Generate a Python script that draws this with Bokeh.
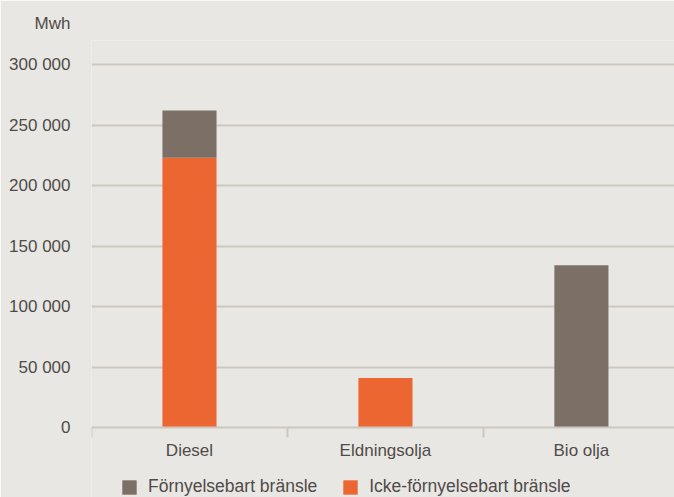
from bokeh.plotting import figure
from bokeh.models import FixedTicker, Legend, LegendItem, ColumnDataSource, Range1d, LinearAxis
from bokeh.embed import file_html
from bokeh.resources import INLINE

categories = ["Diesel", "Eldningsolja", "Bio olja"]
fornyelsebart = [39000, 0, 134000]
icke_fornyelsebart = [223000, 41000, 0]
series_names = ["Förnyelsebart bränsle", "Icke-förnyelsebart bränsle"]
y_ticks = [0, 50000, 100000, 150000, 200000, 250000, 300000]
y_tick_labels = ["0", "50 000", "100 000", "150 000", "200 000", "250 000", "300 000"]
unit_label = "Mwh"

BG = "#e9e7e3"
GRAY = "#7b6f66"
ORANGE = "#ec6631"
TXT = "#4f4b48"
GRID = "#cdc7c0"
FONT = "Liberation Sans"
FS = "17px"

xs = list(range(len(categories)))
src = ColumnDataSource(dict(x=xs, icke=icke_fornyelsebart, forn=fornyelsebart))

p = figure(width=674, height=497, output_backend="svg", toolbar_location=None,
           x_range=Range1d(-0.5, 2.475), y_range=Range1d(-57850, 319835),
           x_axis_location=None,
           min_border_left=91, min_border_right=0, min_border_top=40, min_border_bottom=0)
p.background_fill_color = BG
p.border_fill_color = BG
p.outline_line_color = None

rs = p.vbar_stack(["icke", "forn"], x="x", width=0.276, source=src,
                  color=[ORANGE, GRAY], line_color=None)

# x axis fixed at y = 0
xa = LinearAxis(fixed_location=0)
xa.ticker = FixedTicker(ticks=xs, minor_ticks=[-0.5, 0.5, 1.5])
xa.major_label_overrides = {i: c for i, c in enumerate(categories)}
xa.major_tick_line_color = None
xa.minor_tick_line_color = GRID
xa.minor_tick_line_width = 2
xa.minor_tick_in = 0
xa.minor_tick_out = 10
xa.axis_line_color = GRID
xa.axis_line_width = 2
xa.major_label_text_font = FONT
xa.major_label_text_font_size = FS
xa.major_label_text_color = TXT
xa.major_label_standoff = 3
p.add_layout(xa, "below")

ya = p.yaxis[0]
ya.ticker = FixedTicker(ticks=y_ticks)
ya.major_label_overrides = {t: l for t, l in zip(y_ticks, y_tick_labels)}
ya.axis_line_color = None
ya.major_tick_line_color = None
ya.minor_tick_line_color = None
ya.major_label_standoff = 15
ya.major_label_text_font = FONT
ya.major_label_text_font_size = FS
ya.major_label_text_color = TXT

p.xgrid.grid_line_color = None
p.ygrid.grid_line_color = GRID
p.ygrid.grid_line_width = 2
p.ygrid.ticker = FixedTicker(ticks=y_ticks[1:])

p.title.text = unit_label
p.title.align = "left"
p.title.offset = -57
p.title.standoff = 15
p.title.text_font = FONT
p.title.text_font_size = FS
p.title.text_font_style = "normal"
p.title.text_color = TXT

legend = Legend(items=[LegendItem(label=series_names[0], renderers=[rs[1]]),
                       LegendItem(label=series_names[1], renderers=[rs[0]])],
                location=(29, 0), orientation="horizontal",
                background_fill_alpha=0, border_line_color=None,
                padding=0, margin=0, spacing=24, label_standoff=10,
                glyph_width=18, glyph_height=18,
                label_text_font=FONT, label_text_font_size="17.5px", label_text_color=TXT)
p.add_layout(legend)

open("out.html", "w").write(file_html(p, INLINE))
